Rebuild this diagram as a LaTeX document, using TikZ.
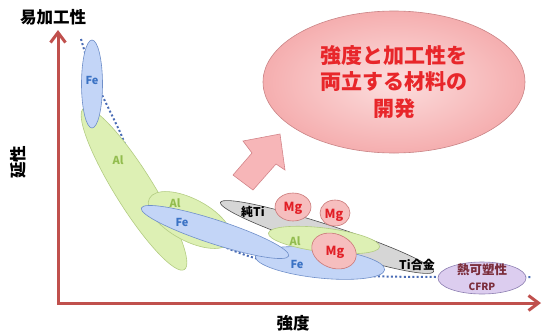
\documentclass[tikz,border=0pt]{standalone}
\usepackage{fontspec}
\setmainfont{Noto Sans CJK JP}
\usetikzlibrary{shapes.geometric,arrows.meta}
\definecolor{axisred}{HTML}{C0504D}
\definecolor{fefill}{HTML}{C3D5F7}
\definecolor{feline}{HTML}{6F8FC9}
\definecolor{fetext}{HTML}{3A72C4}
\definecolor{alfill}{HTML}{DDF0B4}
\definecolor{alline}{HTML}{B3CC82}
\definecolor{altext}{HTML}{92BC4E}
\definecolor{tifill}{HTML}{D6D6D6}
\definecolor{tiline}{HTML}{4D4D4D}
\definecolor{mgfill}{HTML}{F6BEBE}
\definecolor{mgline}{HTML}{C97777}
\definecolor{mgtext}{HTML}{E21F26}
\definecolor{cffill}{HTML}{DCCDEF}
\definecolor{cfline}{HTML}{8E80B2}
\definecolor{cftext}{HTML}{7B2D3B}
\definecolor{bigin}{HTML}{FCDEDE}
\definecolor{bigout}{HTML}{F5AEAF}
\definecolor{bigline}{HTML}{C98486}
\definecolor{bigtext}{HTML}{E8262A}
\definecolor{arrowfill}{HTML}{F7B6B8}
\definecolor{arrowline}{HTML}{D3858A}
\definecolor{dotblue}{HTML}{4A6CB5}
\begin{document}
\begin{tikzpicture}[x=1pt,y=-1pt,
  blob/.style={ellipse, inner sep=0pt, line width=0.6pt},
  feblob/.style={blob, draw=feline, fill=fefill},
  alblob/.style={blob, draw=alline, fill=alfill},
  tiblob/.style={blob, draw=tiline, fill=tifill},
  mgblob/.style={blob, draw=mgline, fill=mgfill},
  cfblob/.style={blob, draw=cfline, fill=cffill},
  felabel/.style={text=fetext, font=\bfseries\fontsize{11}{12}\selectfont},
  allabel/.style={text=altext, font=\bfseries\fontsize{11}{12}\selectfont},
  mglabel/.style={text=mgtext, font=\bfseries\fontsize{12.5}{13}\selectfont},
  tilabel/.style={text=black, font=\bfseries\fontsize{12}{13}\selectfont},
  axislabel/.style={text=black, font=\bfseries\fontsize{16.5}{18}\selectfont},
  axisline/.style={draw=axisred, line width=3pt, line join=miter},
  dotline/.style={draw=dotblue, line width=2pt, dash pattern=on 2pt off 2.3pt}
]
\useasboundingbox (0,0) rectangle (549,335);

% dotted trend curve (behind everything)
\draw[dotline] plot[smooth, tension=0.5] coordinates {(81,39) (88,62) (97,84) (104,99) (120,132) (130,155) (150,185) (175,211) (200,233) (227,248) (258,259) (300,269) (345,275) (385,276.5) (437,277) (532,277)};

% axes
\coordinate (ytip) at (58,30);
\coordinate (origin) at (58,303);
\coordinate (xtip) at (541,303);
\draw[axisline, {Straight Barb[length=10pt,width=15pt]}-{Straight Barb[length=10pt,width=15pt]}] (ytip) -- (origin) -- (xtip);
\node[axislabel] (ylab) at (53,17) {易加工性};
\node[axislabel] (xlab) at (293,323) {強度};
\node[axislabel, rotate=90] (ylab2) at (18,162) {延性};

% material regions
\node[alblob, minimum width=190, minimum height=38, rotate=-58] (al1) at (134,189) {};
\node[feblob, minimum width=21, minimum height=88] (fe1) at (92,84) {};
\node[alblob, minimum width=92, minimum height=42, rotate=-28] (al2) at (190,220) {};
\node[tiblob, minimum width=224, minimum height=24, rotate=-18] (ti) at (327,237) {};
\node[feblob, minimum width=130, minimum height=30, rotate=-6] (fe3) at (320,263) {};
\node[feblob, minimum width=155, minimum height=24, rotate=-18] (fe2) at (215,232) {};
\node[alblob, minimum width=112, minimum height=24, rotate=-7] (al3) at (324,240) {};
\node[mgblob, minimum width=36, minimum height=28] (mg1) at (293,207) {};
\node[mgblob, minimum width=30, minimum height=26] (mg2) at (335,213) {};
\node[mgblob, minimum width=46, minimum height=34, rotate=-22] (mg3) at (334,251) {};
\node[cfblob, minimum width=88, minimum height=32] (cf) at (482,278) {};

% labels
\node[felabel] (lfe1) at (92,80) {Fe};
\node[allabel] (lal1) at (118,160) {Al};
\node[allabel] (lal2) at (175,203) {Al};
\node[felabel] (lfe2) at (182,222) {Fe};
\node[tilabel] (lti1) at (253,212) {純Ti};
\node[tilabel] (lti2) at (417,265) {Ti合金};
\node[mglabel] (lmg1) at (293,208) {Mg};
\node[mglabel] (lmg2) at (334,215) {Mg};
\node[allabel] (lal3) at (295,241) {Al};
\node[mglabel] (lmg3) at (335,252) {Mg};
\node[felabel] (lfe3) at (297,264) {Fe};
\node[text=cftext, font=\bfseries\fontsize{12.5}{13}\selectfont] (lcf1) at (482,270) {熱可塑性};
\node[text=cftext, font=\bfseries\fontsize{10}{11}\selectfont] (lcf2) at (482,287) {CFRP};

% big arrow
\draw[fill=arrowfill, draw=arrowline, line width=0.6pt, line join=miter]
  (280,134) -- (243,141) -- (252,153) -- (233,175) -- (253,190) -- (276,164) -- (285,170) -- cycle;

% goal ellipse
\node[blob, draw=bigline, inner color=bigin, outer color=bigout, minimum width=262, minimum height=142,
      text=bigtext, align=center, font=\bfseries\fontsize{21}{26.5}\selectfont] (goal) at (394,82)
  {強度と加工性を\\両立する材料の\\開発};
\end{tikzpicture}
\end{document}
